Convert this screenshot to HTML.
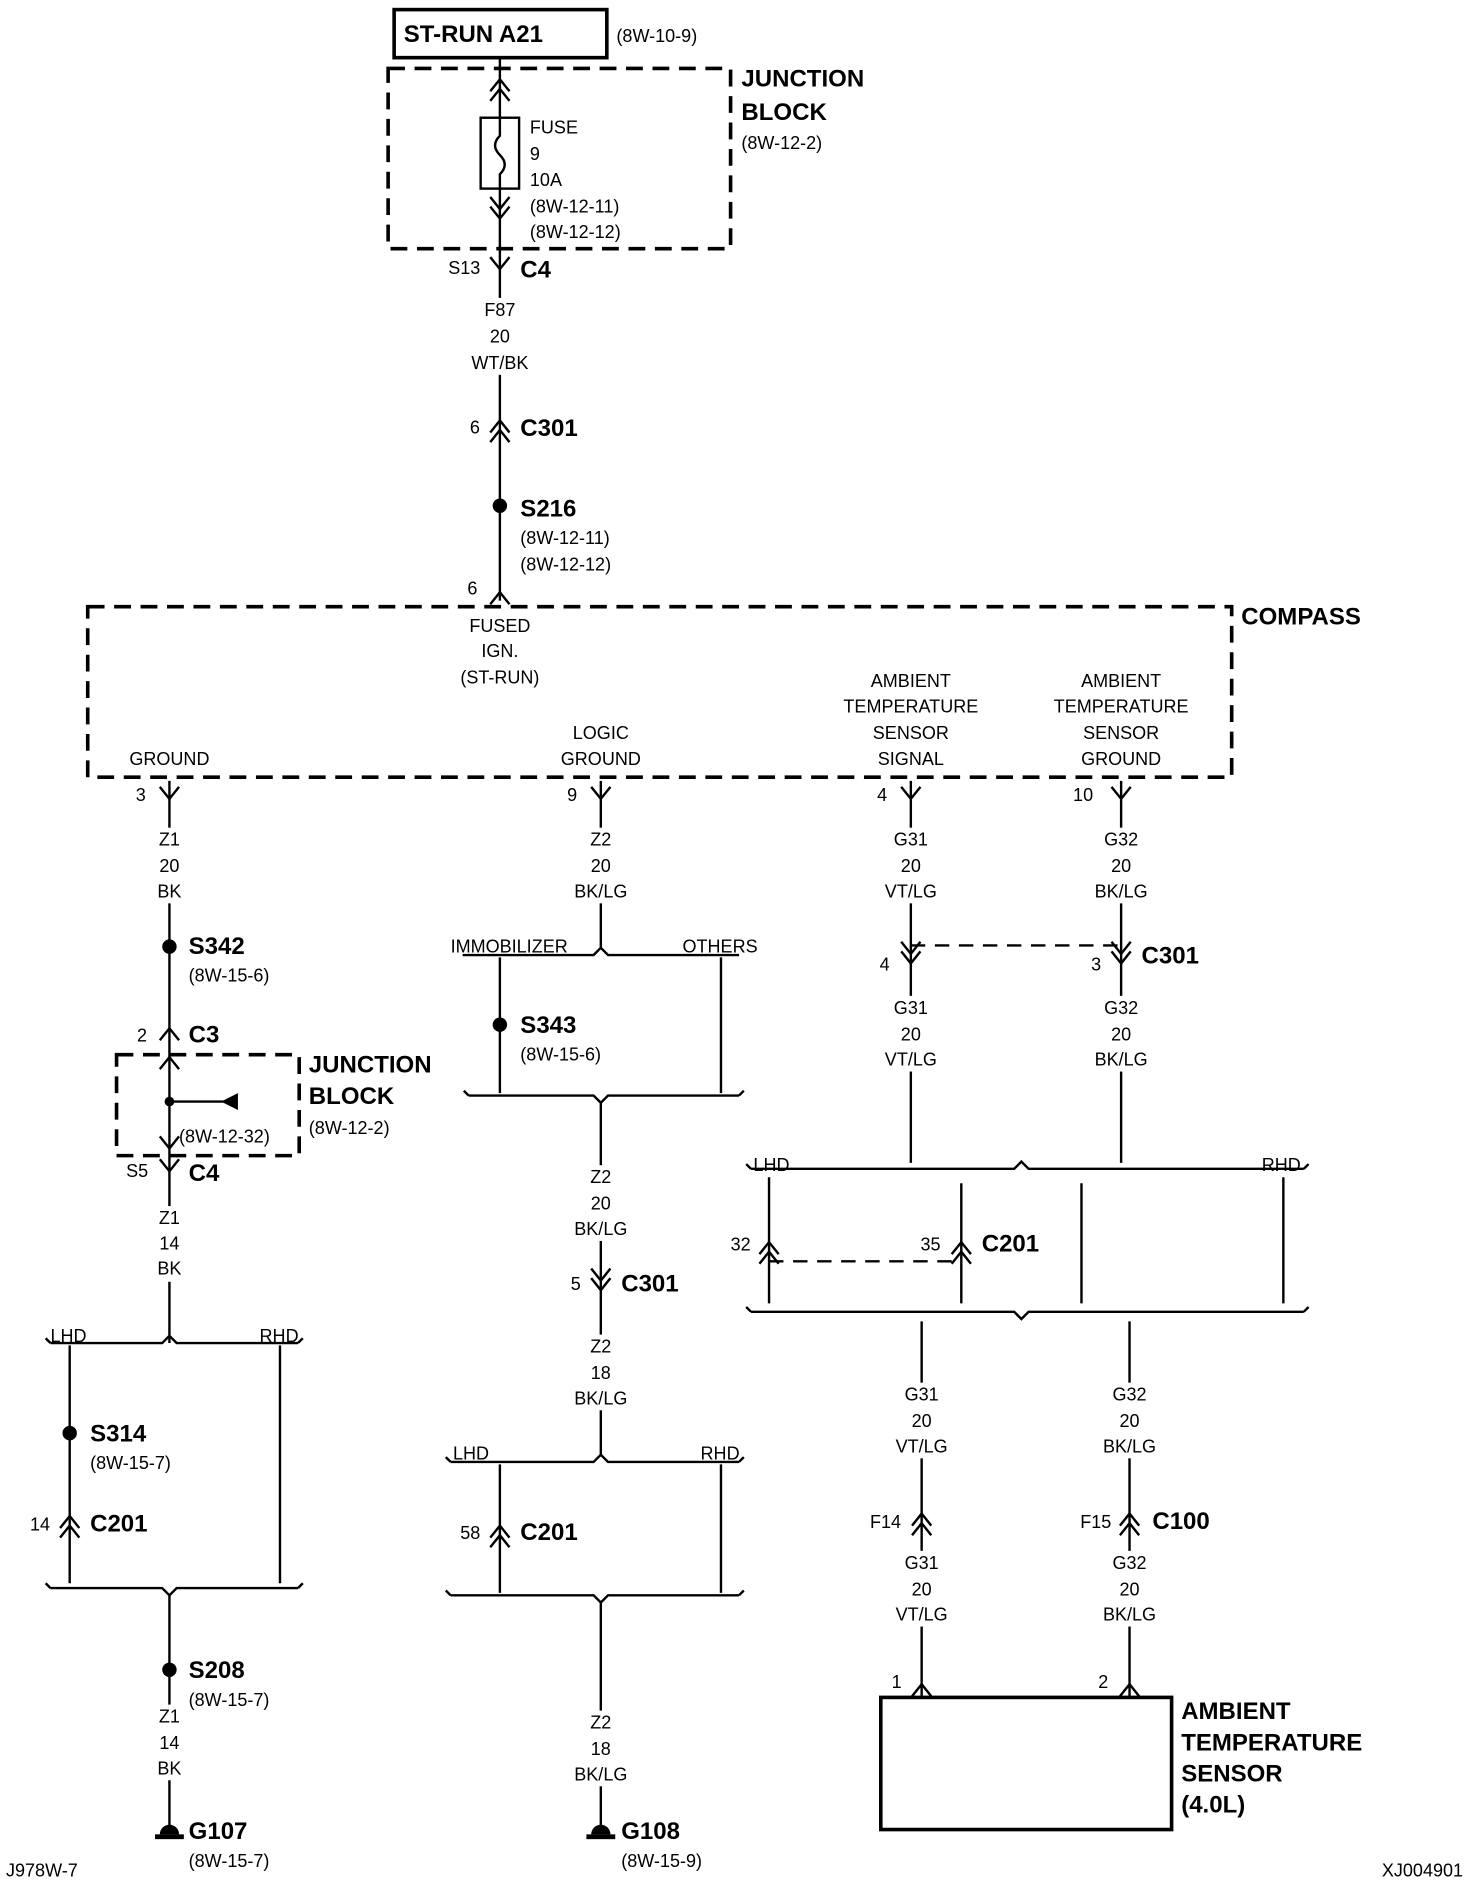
<!DOCTYPE html>
<html><head><style>
html,body{margin:0;padding:0;background:#fff}
svg{display:block}
text{font-family:"Liberation Sans",Arial,sans-serif;fill:#000}
.s{font-size:15px}
.b{font-size:20px;font-weight:bold}
.m{text-anchor:middle}
</style></head><body>
<svg width="1472" height="1880" viewBox="0 0 1225 1565" preserveAspectRatio="none" xmlns="http://www.w3.org/2000/svg">
<defs>
<path id="dn" d="M-8,-8 L0,2 L8,-8" fill="none" stroke="#000" stroke-width="2"/>
<path id="up" d="M-8,8 L0,-2 L8,8" fill="none" stroke="#000" stroke-width="2"/>
</defs>
<g stroke="#000" stroke-width="2" fill="none">
<rect x="328" y="8" width="177" height="40" stroke-width="3"/>
<rect x="323" y="57" width="285" height="150" stroke-dasharray="14,8" stroke-width="3"/>
<line x1="416" y1="48" x2="416" y2="500"/>
<rect x="400" y="98" width="32" height="59" fill="#fff"/>
<path d="M416,98 v15 q-8,8 0,16 q8,8 0,16 v12"/>
<rect x="73" y="505" width="952" height="142" stroke-dasharray="14,8" stroke-width="3"/>
<line x1="141" y1="650" x2="141" y2="1118"/>
<rect x="97" y="878" width="152" height="84" stroke-dasharray="14,8" stroke-width="3"/>
<line x1="141" y1="917" x2="190" y2="917"/>
<path d="M42,1118 H135 l6,-6 l6,6 H248 M42,1118 l-4,-4 M248,1118 l4,-4"/>
<line x1="58" y1="1120" x2="58" y2="1318"/><line x1="233" y1="1120" x2="233" y2="1318"/>
<path d="M42,1322 H135 l6,6 l6,-6 H248 M42,1322 l-4,-4 M248,1322 l4,-4"/>
<line x1="141" y1="1328" x2="141" y2="1520"/>
<line x1="500" y1="650" x2="500" y2="790"/>
<path d="M385,795 H494 l6,-6 l6,6 H615"/>
<line x1="416" y1="797" x2="416" y2="910"/><line x1="600" y1="797" x2="600" y2="910"/>
<path d="M390,912 H494 l6,6 l6,-6 H615 M390,912 l-4,-4 M615,912 l4,-4"/>
<line x1="500" y1="918" x2="500" y2="1212"/>
<path d="M375,1217 H494 l6,-6 l6,6 H615 M375,1217 l-4,-4 M615,1217 l4,-4"/>
<line x1="416" y1="1219" x2="416" y2="1326"/><line x1="600" y1="1219" x2="600" y2="1326"/>
<path d="M375,1328 H494 l6,6 l6,-6 H615 M375,1328 l-4,-4 M615,1328 l4,-4"/>
<line x1="500" y1="1334" x2="500" y2="1520"/>
<line x1="758" y1="650" x2="758" y2="968"/><line x1="933" y1="650" x2="933" y2="968"/>
<line x1="758" y1="787" x2="933" y2="787" stroke-dasharray="12,8"/>
<path d="M625,973 H844 l6,-6 l6,6 H1085 M625,973 l-4,-4 M1085,973 l4,-4"/>
<line x1="640" y1="980" x2="640" y2="1085"/><line x1="800" y1="985" x2="800" y2="1085"/>
<line x1="900" y1="985" x2="900" y2="1085"/><line x1="1068" y1="980" x2="1068" y2="1085"/>
<line x1="640" y1="1050" x2="800" y2="1050" stroke-dasharray="12,8"/>
<path d="M625,1092 H844 l6,6 l6,-6 H1085 M625,1092 l-4,-4 M1085,1092 l4,-4"/>
<line x1="767" y1="1100" x2="767" y2="1413"/><line x1="940" y1="1100" x2="940" y2="1413"/>
<rect x="733" y="1413" width="242" height="110" stroke-width="3"/>
</g>
<!-- wire label gaps -->
<g fill="#fff">
<rect x="390" y="248" width="52" height="64"/>
<rect x="115" y="689" width="52" height="63"/>
<rect x="474" y="689" width="52" height="63"/>
<rect x="732" y="689" width="52" height="63"/>
<rect x="907" y="689" width="52" height="63"/>
<rect x="732" y="829" width="52" height="63"/>
<rect x="907" y="829" width="52" height="63"/>
<rect x="115" y="1004" width="52" height="63"/>
<rect x="474" y="970" width="52" height="63"/>
<rect x="474" y="1111" width="52" height="63"/>
<rect x="741" y="1151" width="52" height="63"/>
<rect x="914" y="1151" width="52" height="63"/>
<rect x="741" y="1291" width="52" height="63"/>
<rect x="914" y="1291" width="52" height="63"/>
<rect x="115" y="1419" width="52" height="63"/>
<rect x="474" y="1424" width="52" height="63"/>
</g>
<g>
<use href="#up" x="416" y="68"/><use href="#up" x="416" y="76"/>
<use href="#dn" x="416" y="172"/><use href="#dn" x="416" y="180"/>
<use href="#dn" x="416" y="222"/>
<use href="#up" x="416" y="352"/><use href="#up" x="416" y="360"/>
<use href="#up" x="416" y="495"/>
<use href="#dn" x="141" y="663"/><use href="#dn" x="500" y="663"/><use href="#dn" x="758" y="663"/><use href="#dn" x="933" y="663"/>
<use href="#dn" x="758" y="792"/><use href="#dn" x="758" y="800"/>
<use href="#dn" x="933" y="792"/><use href="#dn" x="933" y="800"/>
<use href="#up" x="141" y="858"/><use href="#up" x="141" y="882"/>
<use href="#dn" x="141" y="954"/><use href="#dn" x="141" y="973"/>
<use href="#up" x="58" y="1264"/><use href="#up" x="58" y="1272"/>
<use href="#dn" x="500" y="1064"/><use href="#dn" x="500" y="1072"/>
<use href="#up" x="416" y="1272"/><use href="#up" x="416" y="1280"/>
<use href="#up" x="640" y="1036"/><use href="#up" x="640" y="1044"/>
<use href="#up" x="800" y="1036"/><use href="#up" x="800" y="1044"/>
<use href="#up" x="767" y="1262"/><use href="#up" x="767" y="1270"/>
<use href="#up" x="940" y="1262"/><use href="#up" x="940" y="1270"/>
<use href="#up" x="767" y="1404"/><use href="#up" x="940" y="1404"/>
</g>
<polygon points="184,917 198,910 198,924" fill="#000"/>
<g fill="#000">
<circle cx="416" cy="421" r="6"/><circle cx="141" cy="788" r="6"/><circle cx="416" cy="853" r="6"/>
<circle cx="58" cy="1193" r="6"/><circle cx="141" cy="1390" r="6"/><circle cx="141" cy="917" r="4"/>
<rect x="129" y="1527" width="24" height="4"/><path d="M133,1527 a8,8 0 0 1 16,0z"/>
<rect x="488" y="1527" width="24" height="4"/><path d="M492,1527 a8,8 0 0 1 16,0z"/>
</g>
<text class="b" x="336" y="35">ST-RUN A21</text>
<text class="s" x="513" y="35">(8W-10-9)</text>
<text class="b" x="617" y="72">JUNCTION</text><text class="b" x="617" y="100">BLOCK</text>
<text class="s" x="617" y="124">(8W-12-2)</text>
<text class="s" x="441" y="111">FUSE</text><text class="s" x="441" y="133">9</text><text class="s" x="441" y="155">10A</text>
<text class="s" x="441" y="177">(8W-12-11)</text><text class="s" x="441" y="198">(8W-12-12)</text>
<text class="s" x="373" y="228">S13</text><text class="b" x="433" y="231">C4</text>
<text class="s m" x="416" y="263">F87</text><text class="s m" x="416" y="285">20</text><text class="s m" x="416" y="307">WT/BK</text>
<text class="s" x="391" y="361">6</text><text class="b" x="433" y="363">C301</text>
<text class="b" x="433" y="430">S216</text>
<text class="s" x="433" y="453">(8W-12-11)</text><text class="s" x="433" y="475">(8W-12-12)</text>
<text class="s" x="389" y="495">6</text>
<text class="b" x="1033" y="520">COMPASS</text>
<text class="s m" x="416" y="526">FUSED</text><text class="s m" x="416" y="547">IGN.</text><text class="s m" x="416" y="569">(ST-RUN)</text>
<text class="s m" x="758" y="572">AMBIENT</text><text class="s m" x="758" y="593">TEMPERATURE</text><text class="s m" x="758" y="615">SENSOR</text><text class="s m" x="758" y="637">SIGNAL</text>
<text class="s m" x="933" y="572">AMBIENT</text><text class="s m" x="933" y="593">TEMPERATURE</text><text class="s m" x="933" y="615">SENSOR</text><text class="s m" x="933" y="637">GROUND</text>
<text class="s m" x="141" y="637">GROUND</text>
<text class="s m" x="500" y="615">LOGIC</text><text class="s m" x="500" y="637">GROUND</text>
<text class="s" x="113" y="667">3</text><text class="s" x="472" y="667">9</text><text class="s" x="730" y="667">4</text><text class="s" x="893" y="667">10</text>
<text class="s m" x="141" y="704">Z1</text><text class="s m" x="141" y="726">20</text><text class="s m" x="141" y="747">BK</text>
<text class="s m" x="500" y="704">Z2</text><text class="s m" x="500" y="726">20</text><text class="s m" x="500" y="747">BK/LG</text>
<text class="s m" x="758" y="704">G31</text><text class="s m" x="758" y="726">20</text><text class="s m" x="758" y="747">VT/LG</text>
<text class="s m" x="933" y="704">G32</text><text class="s m" x="933" y="726">20</text><text class="s m" x="933" y="747">BK/LG</text>
<text class="b" x="157" y="794">S342</text><text class="s" x="157" y="817">(8W-15-6)</text>
<text class="s" x="375" y="793">IMMOBILIZER</text><text class="s" x="568" y="793">OTHERS</text>
<text class="s" x="732" y="808">4</text><text class="s" x="908" y="808">3</text><text class="b" x="950" y="802">C301</text>
<text class="s m" x="758" y="844">G31</text><text class="s m" x="758" y="866">20</text><text class="s m" x="758" y="887">VT/LG</text>
<text class="s m" x="933" y="844">G32</text><text class="s m" x="933" y="866">20</text><text class="s m" x="933" y="887">BK/LG</text>
<text class="b" x="433" y="860">S343</text><text class="s" x="433" y="883">(8W-15-6)</text>
<text class="s" x="114" y="867">2</text><text class="b" x="157" y="868">C3</text>
<text class="b" x="257" y="893">JUNCTION</text><text class="b" x="257" y="919">BLOCK</text><text class="s" x="257" y="944">(8W-12-2)</text>
<text class="s" x="149" y="951">(8W-12-32)</text>
<text class="s" x="105" y="980">S5</text><text class="b" x="157" y="983">C4</text>
<text class="s m" x="141" y="1019">Z1</text><text class="s m" x="141" y="1040">14</text><text class="s m" x="141" y="1061">BK</text>
<text class="s m" x="500" y="985">Z2</text><text class="s m" x="500" y="1007">20</text><text class="s m" x="500" y="1028">BK/LG</text>
<text class="s" x="475" y="1074">5</text><text class="b" x="517" y="1075">C301</text>
<text class="s m" x="500" y="1126">Z2</text><text class="s m" x="500" y="1148">18</text><text class="s m" x="500" y="1169">BK/LG</text>
<text class="s" x="627" y="975">LHD</text><text class="s" x="1050" y="975">RHD</text>
<text class="s" x="608" y="1041">32</text><text class="s" x="766" y="1041">35</text><text class="b" x="817" y="1042">C201</text>
<text class="s" x="42" y="1117">LHD</text><text class="s" x="216" y="1117">RHD</text>
<text class="b" x="75" y="1200">S314</text><text class="s" x="75" y="1223">(8W-15-7)</text>
<text class="s" x="25" y="1274">14</text><text class="b" x="75" y="1275">C201</text>
<text class="s m" x="767" y="1166">G31</text><text class="s m" x="767" y="1188">20</text><text class="s m" x="767" y="1209">VT/LG</text>
<text class="s m" x="940" y="1166">G32</text><text class="s m" x="940" y="1188">20</text><text class="s m" x="940" y="1209">BK/LG</text>
<text class="s" x="377" y="1215">LHD</text><text class="s" x="583" y="1215">RHD</text>
<text class="s" x="383" y="1281">58</text><text class="b" x="433" y="1282">C201</text>
<text class="s" x="724" y="1272">F14</text><text class="s" x="899" y="1272">F15</text><text class="b" x="959" y="1273">C100</text>
<text class="s m" x="767" y="1306">G31</text><text class="s m" x="767" y="1328">20</text><text class="s m" x="767" y="1349">VT/LG</text>
<text class="s m" x="940" y="1306">G32</text><text class="s m" x="940" y="1328">20</text><text class="s m" x="940" y="1349">BK/LG</text>
<text class="b" x="157" y="1397">S208</text><text class="s" x="157" y="1420">(8W-15-7)</text>
<text class="s m" x="141" y="1434">Z1</text><text class="s m" x="141" y="1456">14</text><text class="s m" x="141" y="1477">BK</text>
<text class="s m" x="500" y="1439">Z2</text><text class="s m" x="500" y="1461">18</text><text class="s m" x="500" y="1482">BK/LG</text>
<text class="s" x="742" y="1405">1</text><text class="s" x="914" y="1405">2</text>
<text class="b" x="983" y="1431">AMBIENT</text><text class="b" x="983" y="1457">TEMPERATURE</text>
<text class="b" x="983" y="1483">SENSOR</text><text class="b" x="983" y="1509">(4.0L)</text>
<text class="b" x="157" y="1531">G107</text><text class="s" x="157" y="1554">(8W-15-7)</text>
<text class="b" x="517" y="1531">G108</text><text class="s" x="517" y="1554">(8W-15-9)</text>
<text class="s" x="5" y="1562">J978W-7</text><text class="s" x="1150" y="1562">XJ004901</text>
</svg>
</body></html>
